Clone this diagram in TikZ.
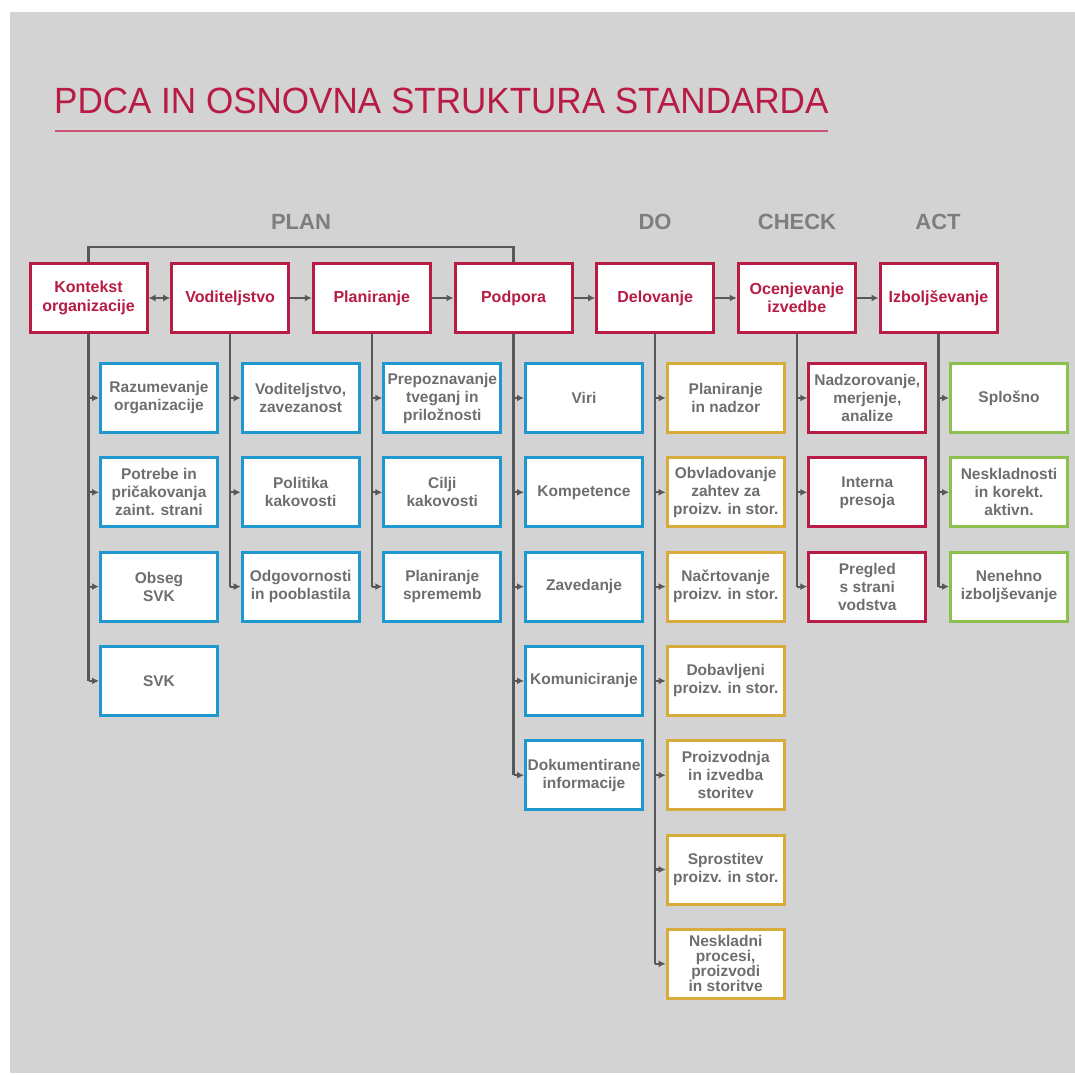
\documentclass[tikz,border=0pt]{standalone}
\usepackage{fontspec}
\setmainfont{Liberation Sans}
\usetikzlibrary{arrows.meta}
\definecolor{bgc}{HTML}{D3D3D3}
\definecolor{crim}{HTML}{B81B44}
\definecolor{bluec}{HTML}{1E98CF}
\definecolor{goldc}{HTML}{D8AC3C}
\definecolor{greenc}{HTML}{8DBF4F}
\definecolor{txtg}{HTML}{6E6E6E}
\definecolor{phaseg}{HTML}{7E7E7E}
\definecolor{linec}{HTML}{585858}
\tikzset{
  boxbase/.style={draw, fill=white, line width=3pt, minimum width=117pt, minimum height=69pt,
    inner sep=1pt, align=center, font=\bfseries\fontsize{15.5}{18}\selectfont},
  topbox/.style={boxbase, draw=crim, text=crim, font=\bfseries\fontsize{16}{18.5}\selectfont},
  bluebox/.style={boxbase, draw=bluec, text=txtg},
  goldbox/.style={boxbase, draw=goldc, text=txtg},
  redbox/.style={boxbase, draw=crim, text=txtg},
  greenbox/.style={boxbase, draw=greenc, text=txtg},
  conn/.style={draw=linec, line width=2.2pt},
  tip/.style={-{Latex[length=7pt,width=7pt]}},
  phase/.style={text=phaseg, font=\bfseries\fontsize{22}{26}\selectfont}
}
\begin{document}
\begin{tikzpicture}[x=1pt,y=-1pt]
\useasboundingbox (0,0) rectangle (1075,1075);
\fill[white] (0,0) rectangle (1075,1075);
\fill[bgc] (10,12) rectangle (1075,1073);
% title
\node[anchor=west, text=crim, inner sep=0pt, font=\fontsize{36.5}{40}\selectfont] (title) at (54,101) {\scalebox{0.96}[1]{PDCA IN OSNOVNA STRUKTURA STANDARDA}};
\coordinate (ulA) at (55,131);
\coordinate (ulB) at (828,131);
\draw[draw=crim!75, line width=2pt] (ulA) -- (ulB);
% phase labels
\node[phase] (plan) at (301,222) {PLAN};
\node[phase] (do) at (655,222) {DO};
\node[phase] (check) at (797,222) {CHECK};
\node[phase] (act) at (938,222) {ACT};
% top boxes
\node[topbox] (t0) at (88.5,298) {Kontekst\\organizacije};
\node[topbox] (t1) at (230.2,298) {Voditeljstvo};
\node[topbox] (t2) at (371.8,298) {Planiranje};
\node[topbox] (t3) at (513.5,298) {Podpora};
\node[topbox] (t4) at (655.2,298) {Delovanje};
\node[topbox] (t5) at (796.8,298) {Ocenjevanje\\izvedbe};
\node[topbox] (t6) at (938.5,298) {Izboljševanje};
% top connectors
\draw[conn, {Latex[length=7pt,width=7pt]}-{Latex[length=7pt,width=7pt]}] (t0.east) -- (t1.west);
\draw[conn, tip] (t1.east) -- (t2.west);
\draw[conn, tip] (t2.east) -- (t3.west);
\draw[conn, tip] (t3.east) -- (t4.west);
\draw[conn, tip] (t4.east) -- (t5.west);
\draw[conn, tip] (t5.east) -- (t6.west);
\draw[conn] (t0.north) -- ++(0,-15) -| (t3.north);
% children
\foreach \txt [count=\j from 0] in {{Razumevanje\\organizacije},{Potrebe in\\pričakovanja\\zaint. strani},{Obseg\\SVK},{SVK}}
  \node[bluebox] (c0-\j) at (159.0,{398+94.3*\j}) {\txt};
\foreach \txt [count=\j from 0] in {{Voditeljstvo,\\zavezanost},{Politika\\kakovosti},{Odgovornosti\\in pooblastila}}
  \node[bluebox] (c1-\j) at (300.7,{398+94.3*\j}) {\txt};
\foreach \txt [count=\j from 0] in {{Prepoznavanje\\tveganj in\\priložnosti},{Cilji\\kakovosti},{Planiranje\\sprememb}}
  \node[bluebox] (c2-\j) at (442.3,{398+94.3*\j}) {\txt};
\foreach \txt [count=\j from 0] in {{Viri},{Kompetence},{Zavedanje},{Komuniciranje},{Dokumentirane\\informacije}}
  \node[bluebox] (c3-\j) at (584.0,{398+94.3*\j}) {\txt};
\foreach \txt [count=\j from 0] in {{Planiranje\\in nadzor},{Obvladovanje\\zahtev za\\proizv. in stor.},{Načrtovanje\\proizv. in stor.},{Dobavljeni\\proizv. in stor.},{Proizvodnja\\in izvedba\\storitev},{Sprostitev\\proizv. in stor.}}
  \node[goldbox] (c4-\j) at (725.7,{398+94.3*\j}) {\txt};
\node[goldbox, font=\bfseries\fontsize{15.5}{14.2}\selectfont] (c4-6) at (725.7,{398+94.3*6}) {Neskladni\\procesi,\\proizvodi\\in storitve};
\foreach \txt [count=\j from 0] in {{Nadzorovanje,\\merjenje,\\analize},{Interna\\presoja},{Pregled\\s strani\\vodstva}}
  \node[redbox] (c5-\j) at (867.3,{398+94.3*\j}) {\txt};
\foreach \txt [count=\j from 0] in {{Splošno},{Neskladnosti\\in korekt.\\aktivn.},{Nenehno\\izboljševanje}}
  \node[greenbox] (c6-\j) at (1009.0,{398+94.3*\j}) {\txt};
% child connectors
\foreach \c/\n in {0/3,1/2,2/2,3/4,4/6,5/2,6/2}{
  \draw[conn] (t\c.south) -- (t\c.south |- c\c-\n.west);
  \foreach \j in {0,...,\n}
    \draw[conn, tip] (t\c.south |- c\c-\j.west) -- (c\c-\j.west);
}
\end{tikzpicture}
\end{document}
